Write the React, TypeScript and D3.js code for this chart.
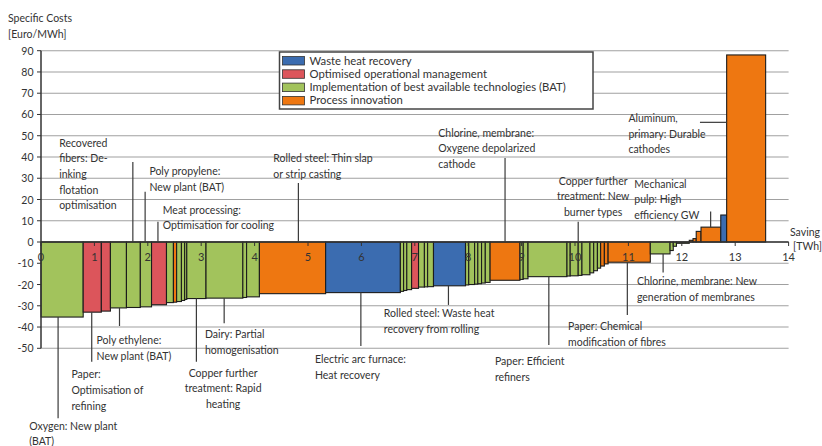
import React from "react";
import * as d3 from "d3";

// ---- Data ----
// Saving potential of each measure [TWh] (bar width), in merit order
const savings = [
  0.79, 0.34, 0.17, 0.30, 0.26, 0.21, 0.28, 0.13, 0.06, 0.09,
  0.06, 0.04, 0.36, 0.69, 0.07, 0.24, 1.24, 1.40, 0.06, 0.06,
  0.09, 0.13, 0.11, 0.06, 0.11, 0.60, 0.06, 0.11, 0.06, 0.07,
  0.07, 0.09, 0.56, 0.06, 0.09, 0.73, 0.06, 0.15, 0.07, 0.15,
  0.07, 0.07, 0.06, 0.07, 0.07, 0.79, 0.37, 0.06, 0.06, 0.24,
  0.07, 0.06, 0.09, 0.37, 0.11, 0.73,
];
// Specific costs [Euro/MWh]
const costs = [
  -35.3, -33, -32.5, -31, -30.8, -30.5, -29.5, -28.5, -28.3, -28,
  -27.5, -27, -26.6, -26.4, -26.1, -25.8, -24.3, -23.8, -23.2, -22.8,
  -22.4, -21.8, -21.2, -21.1, -21, -20.6, -20.2, -20, -19.8, -19.6,
  -19.3, -19, -18, -17.6, -17.3, -16.3, -16, -15.9, -15.7, -15.4,
  -14.5, -13.5, -12.3, -11.3, -10.3, -9.5, -5.6, -4, -2, -0.6,
  0.8, 1.6, 5, 7, 12.7, 88,
];
// Measure category: W = waste heat recovery, O = optimised operation, B = BAT, P = process innovation
const types = [
  "B", "O", "O", "B", "B", "B", "O", "B", "P", "B",
  "B", "B", "B", "B", "B", "B", "P", "W", "B", "B",
  "B", "O", "B", "B", "B", "W", "B", "B", "B", "B",
  "B", "B", "P", "B", "B", "B", "B", "B", "B", "B",
  "B", "B", "B", "P", "P", "P", "B", "B", "B", "B",
  "P", "P", "P", "P", "W", "P",
];

const legendKeys = ["W", "O", "B", "P"];
const legendLabels = [
  "Waste heat recovery",
  "Optimised operational management",
  "Implementation of best available technologies (BAT)",
  "Process innovation",
];

const yTicks = [90, 80, 70, 60, 50, 40, 30, 20, 10, 0, -10, -20, -30, -40, -50];
const xTicks = [0, 1, 2, 3, 4, 5, 6, 7, 8, 9, 10, 11, 12, 13, 14];

// Annotations: text anchor (TWh, Euro/MWh), leader line x and end value
const annLines = [
  ["Recovered", "fibers: De-", "inking", "flotation", "optimisation"],
  ["Poly propylene:", "New plant (BAT)"],
  ["Meat processing:", "Optimisation for cooling"],
  ["Rolled steel: Thin slap", "or strip casting"],
  ["Chlorine, membrane:", "Oxygene depolarized", "cathode"],
  ["Copper further", "treatment: New", "burner types"],
  ["Aluminum,", "primary: Durable", "cathodes"],
  ["Mechanical", "pulp: High", "efficiency GW"],
  ["Chlorine, membrane: New", "generation of membranes"],
  ["Paper: Chemical", "modification of fibres"],
  ["Paper: Efficient", "refiners"],
  ["Rolled steel: Waste heat", "recovery from rolling"],
  ["Electric arc furnace:", "Heat recovery"],
  ["Dairy: Partial", "homogenisation"],
  ["Copper further", "treatment: Rapid", "heating"],
  ["Poly ethylene:", "New plant (BAT)"],
  ["Paper:", "Optimisation of", "refining"],
  ["Oxygen: New plant", "(BAT)"],
];
const annTx = [0.34, 2.03, 2.28, 4.35, 7.44, 10.34, 11.0, 11.11, 11.16, 9.87, 8.5, 6.42, 5.13, 3.07, 3.41, 1.04, 0.57, -0.22];
const annTy = [44.9, 31.5, 13.4, 37.7, 49.6, 27.0, 56.5, 25.6, -20.3, -41.5, -57.9, -35.5, -57.1, -45.1, -63.4, -48.1, -64.2, -88.2];
const annCentered = [false, false, false, false, false, true, false, false, false, false, false, false, false, false, true, false, false, false];
const annLx = [1.72, 1.95, 2.19, 4.82, 8.69, 10.06, 12.34, 12.54, 11.65, 10.98, 9.51, 7.63, 5.99, 3.43, 2.91, 1.47, 0.95, 0.32];
const annLy = [37.6, 23.7, 9.5, 27.8, 39.5, 9.5, 56.3, 14.3, -14.4, -34.3, -48.4, -29.6, -48.9, -38.2, -56.3, -39.5, -56.3, -82.9];
const annHorizontal = [false, false, false, false, false, false, true, false, false, false, false, false, false, false, false, false, false, false];

const colors: Record<string, string> = {
  W: "#3b6cb0",
  O: "#dc555b",
  B: "#a2c35c",
  P: "#ee7711",
};

const FONT = "Lato, 'Open Sans', sans-serif";
const TXT = "#333";

export default function App() {
  const x = d3.scaleLinear().domain([0, 14]).range([41, 788.6]);
  const y = d3.scaleLinear().domain([-50, 90]).range([348.3, 50.7]);

  const cum = Array.from(d3.cumsum(savings));
  const starts = [0, ...cum.slice(0, -1)];
  const bars = savings.map((w, i) => ({ x0: starts[i], x1: starts[i] + w, v: costs[i], t: types[i] }));

  const barAt = (xv: number) => bars.find((b) => xv >= b.x0 && xv < b.x1);

  const lineH = 15.7;

  return (
    <svg
      width={822}
      height={446}
      style={{ position: "absolute", left: 0, top: 0, background: "#fff" }}
      fontFamily={FONT}
    >
      {/* gridlines */}
      {yTicks.map((t) => (
        <line key={"g" + t} x1={x(0)} x2={x(14)} y1={y(t)} y2={y(t)} stroke="#a0a0a0" strokeWidth={1.1} />
      ))}

      {/* bars */}
      {bars.map((b, i) => (
        <rect
          key={"b" + i}
          x={x(b.x0)}
          width={x(b.x1) - x(b.x0)}
          y={Math.min(y(b.v), y(0))}
          height={Math.abs(y(b.v) - y(0))}
          fill={colors[b.t]}
          stroke="#1c1c1c"
          strokeWidth={1.1}
        />
      ))}

      {/* y axis */}
      <line x1={x(0)} x2={x(0)} y1={y(90)} y2={y(-50)} stroke="#333" strokeWidth={1.5} />
      {yTicks.map((t) => (
        <g key={"yt" + t}>
          <line x1={x(0) - 4} x2={x(0)} y1={y(t)} y2={y(t)} stroke="#333" strokeWidth={1} />
          <text x={33.5} y={y(t) + 4} textAnchor="end" fontSize={10.5} fill={TXT}>
            {t}
          </text>
        </g>
      ))}

      {/* x axis */}
      <line x1={x(0)} x2={x(14)} y1={y(0)} y2={y(0)} stroke="#333" strokeWidth={1.3} />
      {xTicks.map((t) => (
        <g key={"xt" + t}>
          <line x1={x(t)} x2={x(t)} y1={y(0)} y2={y(0) + 4} stroke="#333" strokeWidth={1} />
          <text x={x(t)} y={y(0) + 19} textAnchor="middle" fontSize={11} fill={TXT}>
            {t}
          </text>
        </g>
      ))}

      {/* axis titles */}
      <text x={8} y={22} fontSize={10.5} fill={TXT}>Specific Costs</text>
      <text x={8} y={38} fontSize={10.5} fill={TXT}>[Euro/MWh]</text>
      <text x={790} y={236} fontSize={10.5} fill={TXT}>Saving</text>
      <text x={793} y={250} fontSize={10.5} fill={TXT}>[TWh]</text>

      {/* annotations */}
      {annLines.map((lines, i) => {
        const lx = annLx[i];
        const ly = annLy[i];
        let leader;
        if (annHorizontal[i]) {
          const target = bars[bars.length - 1];
          leader = <line x1={x(lx)} x2={x(target.x0)} y1={y(ly)} y2={y(ly)} stroke="#3a3a3a" strokeWidth={1.2} />;
        } else {
          const b = barAt(lx);
          const v = b ? b.v : 0;
          const start = Math.sign(v) === Math.sign(ly) ? v : 0;
          leader = <line x1={x(lx)} x2={x(lx)} y1={y(start)} y2={y(ly)} stroke="#3a3a3a" strokeWidth={1.2} />;
        }
        return (
          <g key={"a" + i}>
            {leader}
            {lines.map((s, j) => (
              <text
                key={j}
                x={x(annTx[i])}
                y={y(annTy[i]) + j * lineH}
                textAnchor={annCentered[i] ? "middle" : "start"}
                fontSize={10.5}
                fill={TXT}
              >
                {s}
              </text>
            ))}
          </g>
        );
      })}

      {/* legend */}
      <g>
        <rect x={279.5} y={52} width={313.5} height={57} fill="#fff" stroke="#444" strokeWidth={1.5} />
        {legendKeys.map((k, i) => (
          <g key={"l" + k}>
            <rect x={282.5} y={56.5 + i * 13.3} width={22} height={8.5} fill={colors[k]} stroke="#333" strokeWidth={0.8} />
            <text x={309.5} y={64.5 + i * 13.3} fontSize={11.3} fill={TXT}>
              {legendLabels[i]}
            </text>
          </g>
        ))}
      </g>
    </svg>
  );
}
